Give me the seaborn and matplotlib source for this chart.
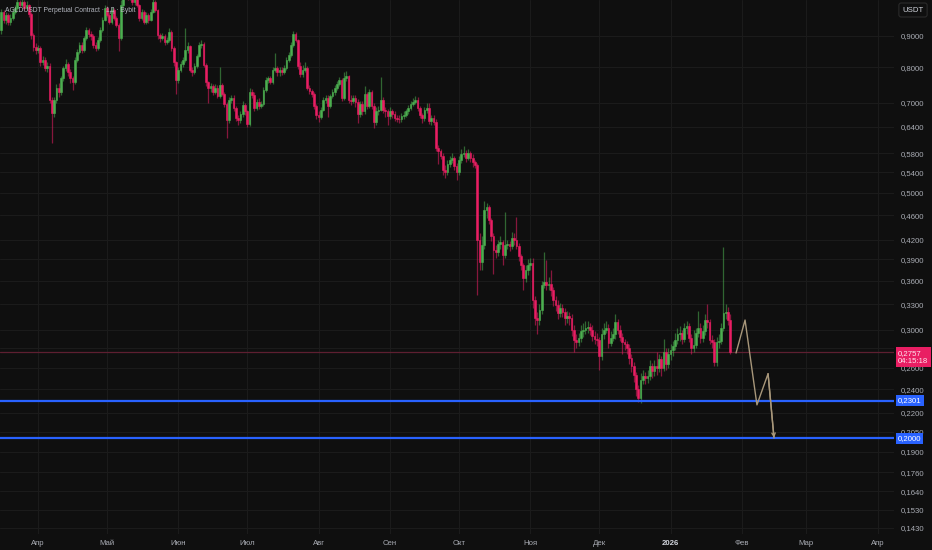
import numpy as np
import pandas as pd
import matplotlib
matplotlib.use("Agg")
import matplotlib.pyplot as plt
import matplotlib.dates as mdates
from matplotlib.transforms import blended_transform_factory
from matplotlib import font_manager
import seaborn as sns

# ---------------- data ----------------
start_date = "2025-03-16"
first_open = 0.919
closes = [
    0.983, 0.954, 0.972, 0.947, 0.961, 0.983, 0.998, 1.020, 1.009, 1.021,
    0.998, 1.009, 0.976, 0.902, 0.862, 0.853, 0.859, 0.816, 0.822, 0.798,
    0.804, 0.708, 0.675, 0.708, 0.741, 0.730, 0.768, 0.798, 0.810, 0.786,
    0.768, 0.757, 0.822, 0.847, 0.869, 0.853, 0.892, 0.919, 0.905, 0.899,
    0.869, 0.859, 0.886, 0.919, 0.954, 0.998, 0.972, 0.947, 0.991, 0.961,
    0.937, 0.892, 1.009, 1.048, 1.067, 1.040, 1.060, 1.021, 1.044, 1.009,
    0.961, 0.983, 0.947, 0.972, 0.954, 0.983, 1.021, 0.991, 0.902, 0.892,
    0.899, 0.879, 0.886, 0.912, 0.859, 0.816, 0.763, 0.792, 0.810, 0.822,
    0.853, 0.866, 0.792, 0.786, 0.804, 0.835, 0.869, 0.872, 0.807, 0.757,
    0.741, 0.746, 0.730, 0.741, 0.719, 0.749, 0.724, 0.698, 0.657, 0.708,
    0.714, 0.688, 0.662, 0.657, 0.672, 0.695, 0.678, 0.648, 0.730, 0.722,
    0.688, 0.703, 0.693, 0.698, 0.735, 0.763, 0.768, 0.757, 0.792, 0.798,
    0.786, 0.792, 0.786, 0.798, 0.822, 0.838, 0.869, 0.905, 0.886, 0.804,
    0.780, 0.792, 0.798, 0.741, 0.732, 0.724, 0.693, 0.670, 0.665, 0.683,
    0.708, 0.714, 0.693, 0.719, 0.730, 0.741, 0.752, 0.763, 0.714, 0.768,
    0.774, 0.708, 0.706, 0.714, 0.703, 0.672, 0.698, 0.678, 0.724, 0.693,
    0.730, 0.693, 0.652, 0.678, 0.683, 0.708, 0.683, 0.678, 0.667, 0.678,
    0.672, 0.662, 0.660, 0.658, 0.667, 0.670, 0.678, 0.688, 0.698, 0.703,
    0.708, 0.688, 0.670, 0.662, 0.683, 0.688, 0.655, 0.662, 0.652, 0.592,
    0.584, 0.575, 0.545, 0.541, 0.557, 0.566, 0.570, 0.553, 0.541, 0.566,
    0.579, 0.581, 0.570, 0.581, 0.570, 0.561, 0.555, 0.4195, 0.386, 0.412,
    0.470, 0.474, 0.452, 0.426, 0.404, 0.401, 0.413, 0.416, 0.397, 0.412,
    0.413, 0.410, 0.423, 0.4195, 0.410, 0.395, 0.382, 0.364, 0.375, 0.382,
    0.385, 0.335, 0.313, 0.311, 0.323, 0.3545, 0.358, 0.3545, 0.356, 0.348,
    0.335, 0.329, 0.319, 0.325, 0.321, 0.313, 0.316, 0.313, 0.300, 0.289,
    0.287, 0.291, 0.298, 0.300, 0.302, 0.303, 0.300, 0.293, 0.290, 0.289,
    0.272, 0.295, 0.300, 0.302, 0.285, 0.291, 0.295, 0.309, 0.300, 0.292,
    0.287, 0.284, 0.280, 0.270, 0.262, 0.2535, 0.240, 0.2325, 0.249, 0.2525,
    0.2507, 0.2525, 0.262, 0.257, 0.262, 0.260, 0.269, 0.260, 0.276, 0.264,
    0.274, 0.278, 0.282, 0.289, 0.295, 0.296, 0.290, 0.302, 0.304, 0.291,
    0.280, 0.283, 0.296, 0.302, 0.291, 0.298, 0.311, 0.309, 0.289, 0.287,
    0.266, 0.286, 0.288, 0.302, 0.319, 0.321, 0.311, 0.2757,
]
highs = [
    0.995, 0.990, 0.985, 0.980, 0.975, 0.995, 1.010, 1.035, 1.030, 1.035,
    1.030, 1.025, 1.015, 0.985, 0.910, 0.875, 0.870, 0.865, 0.835, 0.830,
    0.815, 0.812, 0.715, 0.715, 0.750, 0.755, 0.775, 0.805, 0.825, 0.815,
    0.795, 0.775, 0.830, 0.855, 0.880, 0.878, 0.900, 0.930, 0.925, 0.915,
    0.905, 0.880, 0.895, 0.928, 0.965, 1.010, 1.005, 0.980, 1.000, 0.998,
    0.970, 0.945, 1.030, 1.070, 1.090, 1.080, 1.080, 1.070, 1.060, 1.050,
    1.015, 0.995, 0.990, 0.985, 0.980, 0.995, 1.035, 1.030, 0.995, 0.910,
    0.908, 0.905, 0.895, 0.925, 0.918, 0.865, 0.820, 0.800, 0.818, 0.830,
    0.926, 0.878, 0.870, 0.800, 0.812, 0.842, 0.878, 0.885, 0.878, 0.812,
    0.760, 0.755, 0.752, 0.750, 0.748, 0.800, 0.755, 0.728, 0.702, 0.715,
    0.722, 0.720, 0.692, 0.670, 0.680, 0.705, 0.700, 0.682, 0.740, 0.738,
    0.728, 0.710, 0.712, 0.705, 0.742, 0.770, 0.775, 0.775, 0.800, 0.845,
    0.805, 0.800, 0.800, 0.808, 0.830, 0.848, 0.878, 0.915, 0.912, 0.890,
    0.815, 0.808, 0.815, 0.805, 0.748, 0.738, 0.728, 0.698, 0.678, 0.690,
    0.715, 0.722, 0.720, 0.725, 0.738, 0.748, 0.760, 0.770, 0.768, 0.786,
    0.790, 0.778, 0.720, 0.722, 0.720, 0.710, 0.705, 0.705, 0.745, 0.730,
    0.738, 0.735, 0.700, 0.690, 0.692, 0.770, 0.715, 0.690, 0.685, 0.690,
    0.685, 0.680, 0.670, 0.668, 0.675, 0.678, 0.685, 0.695, 0.705, 0.712,
    0.718, 0.715, 0.692, 0.675, 0.690, 0.700, 0.700, 0.670, 0.668, 0.658,
    0.598, 0.590, 0.580, 0.555, 0.565, 0.575, 0.580, 0.575, 0.560, 0.575,
    0.590, 0.595, 0.588, 0.590, 0.586, 0.578, 0.566, 0.560, 0.430, 0.425,
    0.485, 0.482, 0.478, 0.455, 0.430, 0.412, 0.420, 0.425, 0.420, 0.466,
    0.420, 0.418, 0.432, 0.430, 0.457, 0.415, 0.398, 0.385, 0.382, 0.390,
    0.392, 0.392, 0.340, 0.320, 0.330, 0.360, 0.401, 0.389, 0.365, 0.375,
    0.352, 0.340, 0.335, 0.332, 0.330, 0.325, 0.322, 0.320, 0.318, 0.305,
    0.295, 0.296, 0.305, 0.308, 0.310, 0.310, 0.308, 0.305, 0.298, 0.296,
    0.292, 0.302, 0.308, 0.310, 0.306, 0.298, 0.302, 0.318, 0.312, 0.305,
    0.296, 0.290, 0.288, 0.284, 0.274, 0.266, 0.256, 0.244, 0.255, 0.258,
    0.256, 0.258, 0.268, 0.265, 0.268, 0.276, 0.274, 0.272, 0.290, 0.280,
    0.280, 0.284, 0.288, 0.296, 0.302, 0.304, 0.300, 0.308, 0.310, 0.308,
    0.295, 0.300, 0.302, 0.322, 0.308, 0.305, 0.318, 0.330, 0.312, 0.294,
    0.290, 0.292, 0.295, 0.308, 0.408, 0.330, 0.326, 0.318,
]
lows = [
    0.905, 0.945, 0.940, 0.935, 0.938, 0.955, 0.975, 0.990, 1.000, 1.000,
    0.990, 0.990, 0.965, 0.890, 0.850, 0.840, 0.845, 0.805, 0.808, 0.790,
    0.785, 0.700, 0.603, 0.665, 0.700, 0.715, 0.720, 0.760, 0.790, 0.775,
    0.755, 0.735, 0.750, 0.815, 0.840, 0.845, 0.848, 0.885, 0.895, 0.885,
    0.860, 0.850, 0.852, 0.880, 0.912, 0.950, 0.965, 0.940, 0.940, 0.955,
    0.930, 0.850, 0.885, 1.000, 1.040, 1.030, 1.030, 1.010, 1.010, 1.000,
    0.950, 0.955, 0.940, 0.940, 0.945, 0.950, 0.978, 0.985, 0.890, 0.880,
    0.885, 0.870, 0.872, 0.880, 0.850, 0.805, 0.725, 0.755, 0.785, 0.800,
    0.815, 0.845, 0.785, 0.775, 0.780, 0.798, 0.830, 0.860, 0.800, 0.745,
    0.700, 0.730, 0.722, 0.725, 0.712, 0.712, 0.718, 0.690, 0.615, 0.650,
    0.700, 0.680, 0.655, 0.645, 0.650, 0.665, 0.670, 0.640, 0.642, 0.712,
    0.680, 0.682, 0.685, 0.688, 0.692, 0.728, 0.755, 0.750, 0.752, 0.785,
    0.775, 0.775, 0.778, 0.780, 0.792, 0.815, 0.832, 0.862, 0.878, 0.796,
    0.770, 0.772, 0.785, 0.735, 0.725, 0.715, 0.685, 0.660, 0.652, 0.658,
    0.678, 0.700, 0.665, 0.688, 0.712, 0.722, 0.735, 0.745, 0.705, 0.708,
    0.760, 0.700, 0.695, 0.700, 0.690, 0.650, 0.665, 0.670, 0.672, 0.685,
    0.688, 0.685, 0.638, 0.645, 0.670, 0.678, 0.675, 0.665, 0.645, 0.660,
    0.662, 0.655, 0.652, 0.650, 0.652, 0.660, 0.665, 0.672, 0.682, 0.692,
    0.698, 0.680, 0.662, 0.650, 0.655, 0.675, 0.648, 0.645, 0.645, 0.585,
    0.558, 0.568, 0.535, 0.528, 0.535, 0.550, 0.560, 0.545, 0.525, 0.535,
    0.560, 0.572, 0.562, 0.565, 0.562, 0.552, 0.548, 0.342, 0.375, 0.375,
    0.405, 0.455, 0.445, 0.418, 0.370, 0.392, 0.395, 0.405, 0.382, 0.392,
    0.405, 0.402, 0.405, 0.412, 0.405, 0.388, 0.375, 0.348, 0.358, 0.368,
    0.375, 0.325, 0.305, 0.295, 0.305, 0.318, 0.350, 0.348, 0.348, 0.340,
    0.328, 0.322, 0.312, 0.315, 0.314, 0.305, 0.308, 0.305, 0.293, 0.276,
    0.280, 0.282, 0.287, 0.292, 0.295, 0.296, 0.294, 0.288, 0.284, 0.282,
    0.258, 0.268, 0.290, 0.296, 0.280, 0.282, 0.288, 0.290, 0.295, 0.288,
    0.274, 0.278, 0.274, 0.264, 0.256, 0.247, 0.234, 0.229, 0.228, 0.245,
    0.245, 0.246, 0.249, 0.250, 0.252, 0.253, 0.256, 0.252, 0.257, 0.258,
    0.260, 0.268, 0.272, 0.278, 0.284, 0.288, 0.284, 0.286, 0.295, 0.286,
    0.274, 0.276, 0.280, 0.292, 0.285, 0.286, 0.294, 0.302, 0.284, 0.280,
    0.262, 0.262, 0.280, 0.284, 0.298, 0.312, 0.305, 0.274,
]

support_levels = [0.2301, 0.2000]
proj_dates = ["2026-01-29 12:00", "2026-02-02 10:00", "2026-02-07 14:00",
              "2026-02-12 10:00", "2026-02-15 00:00"]
proj_prices = [0.275, 0.311, 0.2265, 0.2545, 0.2002]

price_ticks = [0.9000, 0.8000, 0.7000, 0.6400, 0.5800, 0.5400, 0.5000, 0.4600,
               0.4200, 0.3900, 0.3600, 0.3300, 0.3000, 0.2800, 0.2600, 0.2400,
               0.2200, 0.2050, 0.1900, 0.1760, 0.1640, 0.1530, 0.1430]
month_ticks = ["2025-04-01", "2025-05-01", "2025-06-01", "2025-07-01",
               "2025-08-01", "2025-09-01", "2025-10-01", "2025-11-01",
               "2025-12-01", "2026-01-01", "2026-02-01", "2026-03-01",
               "2026-04-01"]
month_labels = ["Апр", "Май", "Июн", "Июл", "Авг", "Сен", "Окт", "Ноя",
                "Дек", "2026", "Фев", "Мар", "Апр"]
title_text = "AGLDUSDT Perpetual Contract · 1Д · Bybit"
countdown = "04:15:18"

# ---------------- style ----------------
BG = "#0f0f0f"
GRID = "#1b1b1b"
TXT = "#a9acb4"
UP = "#4caf50"
DOWN = "#e91e63"
BLUE = "#2962ff"
PROJ = "#a8977a"

sns.set_theme(style="dark", rc={"axes.facecolor": BG, "figure.facecolor": BG})
plt.rcParams["font.family"] = ["Liberation Sans", "DejaVu Sans"]

installed = {f.name for f in font_manager.fontManager.ttflist}
has_narrow = "Liberation Sans Narrow" in installed
title_family = ["Liberation Sans Narrow"] if has_narrow else ["Liberation Sans"]
title_size = 5.4 if has_narrow else 4.9

df = pd.DataFrame({
    "date": pd.date_range(start_date, periods=len(closes), freq="D"),
    "close": closes, "high": highs, "low": lows,
})
df["open"] = [first_open] + closes[:-1]
df["high"] = np.maximum(df["high"], df[["open", "close"]].max(axis=1))
df["low"] = np.minimum(df["low"], df[["open", "close"]].min(axis=1))
df["x"] = mdates.date2num(df["date"])
up = df["close"] >= df["open"]
colors = np.where(up, UP, DOWN)

W, H = 932, 550
fig = plt.figure(figsize=(W / 100, H / 100), dpi=100)
ax = fig.add_axes([0, 16 / H, 894 / W, 534 / H])
ax.set_facecolor(BG)
ax.set_yscale("log")

apr1 = mdates.date2num(pd.Timestamp("2025-04-01"))
ax.set_xlim(apr1 - 38 / 2.3, apr1 + (894 - 38) / 2.3)
ax.set_ylim(0.1398, 1.0284)

# grid
mt = mdates.date2num(pd.to_datetime(month_ticks))
for v in price_ticks:
    ax.axhline(v, color=GRID, lw=0.8, zorder=0)
for m in mt:
    ax.axvline(m, color=GRID, lw=0.8, zorder=0)

# wicks and bodies
ax.vlines(df["x"], df["low"], df["high"], colors=colors, lw=0.9, alpha=0.55, zorder=2)
body_low = df[["open", "close"]].min(axis=1)
body_h = (df["close"] - df["open"]).abs()
ax.bar(df["x"], body_h, bottom=body_low, width=0.78, color=colors,
       edgecolor=colors, linewidth=0.4, zorder=3)

# levels
last = closes[-1]
ax.axhline(last, color="#5e1f31", lw=0.9, zorder=1)
for lv in support_levels:
    ax.axhline(lv, color=BLUE, lw=1.6, zorder=4)

# projection path
px = mdates.date2num(pd.to_datetime(proj_dates))
pdf = pd.DataFrame({"x": px, "y": proj_prices})
sns.lineplot(data=pdf, x="x", y="y", ax=ax, color=PROJ, lw=1.0, sort=False,
             estimator=None, zorder=5)
ax.annotate("", xy=(px[-1], proj_prices[-1]), xytext=(px[-2], proj_prices[-2]),
            arrowprops=dict(arrowstyle="->", color=PROJ, lw=1.0, shrinkA=0,
                            shrinkB=0, mutation_scale=6), zorder=5)

# axes styling
for s in ax.spines.values():
    s.set_visible(False)
ax.yaxis.tick_right()
ax.set_yticks(price_ticks)
ax.set_yticklabels([f"{v:.4f}".replace(".", ",") for v in price_ticks])
ax.yaxis.set_minor_locator(matplotlib.ticker.NullLocator())
ax.tick_params(axis="y", length=0, pad=5, labelsize=5.6, colors=TXT)
ax.set_xticks(mt)
ax.set_xticklabels(month_labels)
ax.tick_params(axis="x", length=0, pad=4, labelsize=5.6, colors=TXT)
for t in ax.get_xticklabels():
    if t.get_text() == "2026":
        t.set_fontweight("bold")
        t.set_color("#d1d4dc")
ax.set_xlabel("")
ax.set_ylabel("")
ax.grid(False)

# right-side price labels
tr = blended_transform_factory(ax.transAxes, ax.transData)
xl = 898 / 894
ax.annotate(f"{last:.4f}".replace(".", ",") + "\n" + countdown,
            xy=(xl, last), xycoords=tr, xytext=(0, -5), textcoords="offset pixels",
            ha="left", va="center", fontsize=5.6, color="#ffe4ee",
            linespacing=1.2, annotation_clip=False, zorder=10,
            bbox=dict(boxstyle="square,pad=0.3", fc=DOWN, ec="none"))
for lv in support_levels:
    ax.text(xl, lv, f"{lv:.4f}".replace(".", ","), transform=tr, ha="left",
            va="center", fontsize=5.6, color="white", clip_on=False, zorder=10,
            bbox=dict(boxstyle="square,pad=0.25", fc=BLUE, ec="none"))

# USDT box and title
fig.text(913 / W, 1 - 10 / H, "USDT", ha="center", va="center", fontsize=5.6,
         color="#d1d4dc",
         bbox=dict(boxstyle="round,pad=0.45,rounding_size=0.3", fc=BG, ec="#2a2a2a", lw=0.8))
fig.text(5 / W, 1 - 10 / H, title_text, ha="left", va="center", fontsize=title_size,
         family=title_family, color="#b2b5be")

fig.savefig("out.png", dpi=100, facecolor=BG)
